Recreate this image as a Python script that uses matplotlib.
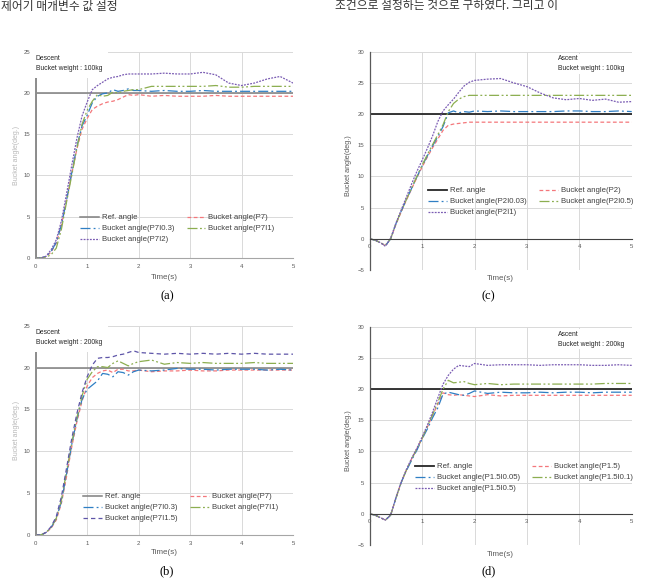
import matplotlib
matplotlib.use("Agg")
import matplotlib.pyplot as plt
from matplotlib.patches import Rectangle

W, H = 645, 579

# -------------------------
# DATA
# -------------------------
t = [0, 0.1, 0.2, 0.3, 0.4, 0.5, 0.6, 0.7, 0.8, 0.9, 1.0, 1.1, 1.2, 1.3, 1.4, 1.5, 1.6,
     1.7, 1.8, 1.9, 2.0, 2.25, 2.5, 2.75, 3.0, 3.25, 3.5, 3.75, 4.0, 4.25, 4.5, 4.75, 5.0]
ref_t = [0, 0, 5]
ref_y = [0, 20, 20]

# (a) descent, 100 kg
a_p7 = [0, 0, 0.2, 0.7, 1.8, 4.0, 7.0, 10.2, 13.2, 15.6, 16.9, 18.0, 18.4, 18.7, 18.9, 19.0, 19.2,
        19.5, 19.8, 19.7, 19.8, 19.6, 19.7, 19.6, 19.6, 19.6, 19.7, 19.6, 19.6, 19.6, 19.6, 19.6, 19.6]
a_p7i03 = [0, 0, 0.2, 0.8, 1.9, 4.0, 7.0, 10.3, 13.5, 16.0, 17.3, 18.8, 19.6, 19.9, 20.0, 20.4, 20.2,
           20.3, 20.5, 20.3, 20.3, 20.2, 20.3, 20.2, 20.2, 20.3, 20.2, 20.2, 20.2, 20.2, 20.2, 20.2, 20.2]
a_p7i1 = [0, 0, 0.1, 0.4, 1.2, 3.5, 6.8, 10.0, 13.3, 16.2, 17.9, 19.0, 19.8, 19.6, 19.7, 20.1, 20.0,
          20.2, 20.3, 20.4, 20.4, 20.8, 20.8, 20.8, 20.8, 20.8, 20.9, 20.7, 20.7, 20.8, 20.8, 20.8, 20.8]
a_p7i2 = [0, 0, 0.2, 1.0, 2.2, 4.5, 7.8, 11.2, 14.5, 17.2, 18.9, 20.4, 20.9, 21.3, 21.7, 21.9, 22.0,
          22.2, 22.3, 22.3, 22.3, 22.3, 22.4, 22.3, 22.3, 22.5, 22.2, 21.2, 20.9, 21.2, 21.7, 22.0, 21.2]

# (c) ascent, 100 kg
c_p2 = [0, -0.2, -0.6, -1.1, 0.0, 2.3, 4.3, 6.2, 8.0, 9.8, 11.5, 13.1, 14.6, 16.0, 17.4, 18.2, 18.4,
        18.5, 18.6, 18.7, 18.7, 18.7, 18.7, 18.7, 18.7, 18.7, 18.7, 18.7, 18.7, 18.7, 18.7, 18.7, 18.7]
c_p2i003 = [0, -0.2, -0.6, -1.1, 0.0, 2.4, 4.4, 6.3, 8.1, 9.9, 11.7, 13.3, 14.9, 16.4, 18.0, 20.2, 20.5,
            20.2, 20.4, 20.3, 20.5, 20.4, 20.5, 20.4, 20.4, 20.4, 20.4, 20.5, 20.5, 20.4, 20.4, 20.5, 20.4]
c_p2i05 = [0, -0.2, -0.6, -1.0, 0.0, 2.4, 4.4, 6.3, 8.2, 10.0, 11.8, 13.5, 15.1, 16.7, 18.3, 20.4, 21.7,
           22.4, 22.8, 23.0, 23.0, 23.0, 23.0, 23.0, 23.0, 23.0, 23.0, 23.0, 23.0, 23.0, 23.0, 23.0, 23.0]
c_p2i1 = [0, -0.2, -0.6, -1.2, 0.1, 2.5, 4.6, 6.7, 8.8, 10.8, 12.6, 14.5, 16.5, 18.8, 20.5, 21.5, 22.4,
          23.5, 24.5, 25.1, 25.4, 25.6, 25.7, 25.0, 24.4, 23.4, 22.6, 22.3, 22.5, 22.2, 22.4, 21.9, 22.0]

# (b) descent, 200 kg
b_p7 = [0, 0, 0.3, 0.8, 1.8, 3.8, 7.0, 10.5, 13.5, 16.0, 17.8, 18.8, 19.3, 19.6, 19.7, 19.4, 19.8,
        19.8, 19.6, 19.6, 19.7, 19.5, 19.6, 19.6, 19.7, 19.6, 19.6, 19.7, 19.7, 19.7, 19.7, 19.7, 19.7]
b_p7i03 = [0, 0, 0.3, 0.9, 2.0, 4.0, 7.3, 10.8, 13.8, 16.2, 17.4, 17.9, 18.4, 19.3, 19.2, 18.9, 19.5,
           19.4, 19.1, 19.5, 19.7, 19.6, 19.7, 19.9, 19.8, 19.8, 19.7, 19.8, 19.8, 19.8, 19.7, 19.8, 19.7]
b_p7i1 = [0, 0, 0.3, 0.9, 2.0, 4.2, 7.6, 11.0, 14.0, 16.6, 18.6, 19.5, 20.1, 20.1, 20.0, 20.5, 20.8,
          20.5, 20.2, 20.5, 20.7, 20.9, 20.4, 20.6, 20.5, 20.6, 20.5, 20.5, 20.5, 20.6, 20.5, 20.5, 20.5]
b_p7i15 = [0, 0, 0.3, 1.0, 2.2, 4.6, 8.0, 11.5, 14.5, 17.0, 18.9, 20.3, 21.1, 21.2, 21.2, 21.3, 21.5,
           21.6, 21.8, 22.0, 21.8, 21.7, 21.6, 21.7, 21.6, 21.7, 21.6, 21.7, 21.6, 21.7, 21.6, 21.6, 21.6]

# (d) ascent, 200 kg
d_p15 = [0, -0.2, -0.6, -1.0, -0.2, 2.5, 5.0, 7.0, 8.8, 10.4, 12.1, 13.9, 15.8, 17.6, 19.4, 19.1, 19.0,
         19.1, 19.0, 18.9, 18.8, 19.1, 18.9, 19.0, 19.0, 19.0, 19.0, 19.0, 19.0, 19.0, 19.0, 19.0, 19.0]
d_p15i005 = [0, -0.2, -0.6, -1.0, -0.2, 2.5, 5.0, 6.9, 8.6, 10.2, 12.0, 13.6, 15.4, 17.0, 19.2, 19.5, 19.3,
             19.1, 19.0, 19.3, 19.7, 19.3, 19.5, 19.4, 19.4, 19.5, 19.4, 19.5, 19.5, 19.4, 19.5, 19.5, 19.5]
d_p15i01 = [0, -0.2, -0.6, -1.0, -0.2, 2.5, 5.0, 7.0, 8.8, 10.4, 12.1, 14.0, 15.9, 17.9, 20.0, 21.4, 21.0,
            21.1, 21.2, 20.9, 20.7, 20.9, 20.7, 20.8, 20.8, 20.8, 20.8, 20.8, 20.8, 20.8, 20.9, 20.9, 20.9]
d_p15i05 = [0, -0.2, -0.6, -1.0, -0.2, 2.6, 5.1, 7.1, 8.9, 10.5, 12.3, 14.2, 16.3, 18.6, 20.8, 22.2, 23.2,
            23.8, 23.7, 23.6, 24.1, 23.8, 23.9, 23.9, 23.9, 23.8, 23.9, 23.9, 23.9, 23.8, 23.8, 23.9, 23.8]

RED = "#f4777b"
BLUE = "#2f7fc4"
GREEN = "#8cae50"
PURPLE = "#7a5cb3"

plt.rcParams["font.family"] = ["Liberation Sans", "DejaVu Sans"]


def px(x, y):
    return x / W, 1 - y / H


def box(left, top, right, bottom):
    return [left / W, 1 - bottom / H, (right - left) / W, (bottom - top) / H]


def draw_panel(fig, rect, ylim, yticks, series, ascent, legend_xy, note, note_xy):
    ax = fig.add_axes(rect)
    ax.set_xlim(0, 5)
    ax.set_ylim(*ylim)
    ax.set_xticks(range(6))
    ax.set_yticks(yticks)
    ax.grid(True, color="#d9d9d9", lw=0.7)
    ax.set_axisbelow(True)
    for s in ["top", "right"]:
        ax.spines[s].set_visible(False)
    ax.tick_params(length=0, labelsize=4.3, colors="#595959", pad=4)
    if ascent:
        ax.spines["bottom"].set_position(("data", 0))
        ax.spines["bottom"].set_color("#404040")
        ax.spines["left"].set_color("#595959")
        ax.spines["left"].set_linewidth(0.9)
        ref_color, ref_lw = "#262626", 1.3
    else:
        ax.spines["bottom"].set_color("#a6a6a6")
        ax.spines["left"].set_color("#8c8c8c")
        ax.spines["left"].set_linewidth(1.4)
        ref_color, ref_lw = "#7f7f7f", 1.1

    handles = [ax.plot(ref_t, ref_y, color=ref_color, lw=ref_lw, label="Ref. angle")[0]]
    for label, y, color, ls in series:
        handles.append(ax.plot(t, y, color=color, ls=ls, lw=0.9, label=label)[0])

    # excel fills the legend row by row
    order = [0, 2, 4, 1, 3]
    leg = fig.legend([handles[i] for i in order], [handles[i].get_label() for i in order],
                     loc="upper left", bbox_to_anchor=px(*legend_xy), ncol=2,
                     fontsize=5.6, frameon=False, handlelength=2.4, handletextpad=0.4,
                     columnspacing=1.6, labelspacing=0.45, borderpad=0, borderaxespad=0)
    for txt in leg.get_texts():
        txt.set_color("#404040")

    if ascent:
        fig.text(*px(*note_xy), note, fontsize=4.9, color="#262626", va="top",
                 linespacing=1.6, bbox=dict(fc="white", ec="none", pad=1))
    else:
        ax.add_patch(Rectangle((-0.1, 21.8), 1.5, 3.8, fc="white", ec="none",
                               zorder=3, clip_on=False))
        fig.text(*px(*note_xy), note, fontsize=4.9, color="#262626", va="top",
                 linespacing=1.6, zorder=4)
    return ax


fig = plt.figure(figsize=(W / 100, H / 100), dpi=100)

# top line of body text (cut by the page edge in the scan)
fig.text(*px(1, 6), "제어기 매개변수 값 설정", fontsize=8.5, color="#333333",
         va="center", family=["Noto Sans CJK KR"])
fig.text(*px(335, 6), "조건으로 설정하는 것으로 구하였다. 그리고 이", fontsize=8.5,
         color="#333333", va="center", family=["Noto Sans CJK KR"])

style_a = [
    ("Bucket angle(P7)", a_p7, RED, (0, (3, 2))),
    ("Bucket angle(P7I0.3)", a_p7i03, BLUE, (0, (8, 2.5, 1.5, 2.5))),
    ("Bucket angle(P7I1)", a_p7i1, GREEN, (0, (8, 2, 1.5, 2, 1.5, 2))),
    ("Bucket angle(P7I2)", a_p7i2, PURPLE, (0, (1.5, 1))),
]
style_c = [
    ("Bucket angle(P2)", c_p2, RED, (0, (3, 2))),
    ("Bucket angle(P2I0.03)", c_p2i003, BLUE, (0, (8, 2.5, 1.5, 2.5))),
    ("Bucket angle(P2I0.5)", c_p2i05, GREEN, (0, (8, 2, 1.5, 2, 1.5, 2))),
    ("Bucket angle(P2I1)", c_p2i1, PURPLE, (0, (1.5, 1))),
]
style_b = [
    ("Bucket angle(P7)", b_p7, RED, (0, (3, 2))),
    ("Bucket angle(P7I0.3)", b_p7i03, BLUE, (0, (8, 2.5, 1.5, 2.5))),
    ("Bucket angle(P7I1)", b_p7i1, GREEN, (0, (8, 2, 1.5, 2, 1.5, 2))),
    ("Bucket angle(P7I1.5)", b_p7i15, "#5e55a8", (0, (3.5, 2.5))),
]
style_d = [
    ("Bucket angle(P1.5)", d_p15, RED, (0, (3, 2))),
    ("Bucket angle(P1.5I0.05)", d_p15i005, BLUE, (0, (8, 2.5, 1.5, 2.5))),
    ("Bucket angle(P1.5I0.1)", d_p15i01, GREEN, (0, (8, 2, 1.5, 2, 1.5, 2))),
    ("Bucket angle(P1.5I0.5)", d_p15i05, PURPLE, (0, (1.5, 1))),
]

yt_desc = [0, 5, 10, 15, 20, 25]
yt_asc = [-5, 0, 5, 10, 15, 20, 25, 30]

draw_panel(fig, box(35.7, 51.7, 293, 258), (0, 25), yt_desc, style_a, False,
           (80, 214), "Descent\nBucket weight : 100kg", (35.5, 55))
draw_panel(fig, box(369.7, 51.7, 631.7, 270), (-5, 30), yt_asc, style_c, True,
           (428, 187), "Ascent\nBucket weight : 100kg", (557.7, 55.5))
draw_panel(fig, box(35.7, 325.7, 293, 535), (0, 25), yt_desc, style_b, False,
           (83, 493), "Descent\nBucket weight : 200kg", (36, 329))
draw_panel(fig, box(369.7, 326.7, 631.7, 545), (-5, 30), yt_asc, style_d, True,
           (415, 463), "Ascent\nBucket weight : 200kg", (557.7, 330.5))

# axis titles
for x, y in [(164.5, 277.7), (500.7, 278), (164.5, 553), (500.7, 554)]:
    fig.text(*px(x, y), "Time(s)", fontsize=5.8, color="#595959", ha="center", va="center")
fig.text(*px(348, 166), "Bucket angle(deg.)", fontsize=5.2, color="#595959",
         rotation=90, ha="center", va="center")
fig.text(*px(348, 441), "Bucket angle(deg.)", fontsize=5.2, color="#595959",
         rotation=90, ha="center", va="center")
fig.text(*px(17, 155), "Bucket angle(deg.)", fontsize=5.0, color="#b8b8b8",
         rotation=90, ha="center", va="center")
fig.text(*px(17, 430), "Bucket angle(deg.)", fontsize=5.0, color="#b8b8b8",
         rotation=90, ha="center", va="center")

# panel captions
for x, y, s in [(167, 296, "(a)"), (488, 296, "(c)"), (167, 571, "(b)"), (489, 571, "(d)")]:
    fig.text(*px(x, y), s, fontsize=9, family=["Liberation Serif"], ha="center", va="center")

fig.savefig("out.png", dpi=100)
